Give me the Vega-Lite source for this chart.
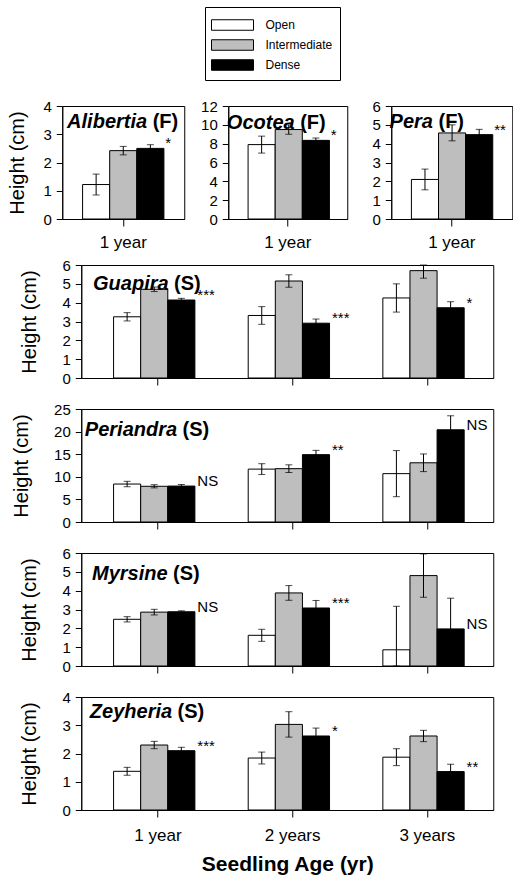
{
  "$schema": "https://vega.github.io/schema/vega-lite/v6.json",
  "padding": {"left": 7, "top": 6, "right": 0, "bottom": 0},
  "datasets": {
    "h": [
      {"species": "Alibertia", "habit": "(F)", "age": "1 year", "cover": "Open", "mean": 1.22, "lo": 0.85, "hi": 1.59, "sig": ""},
      {"species": "Alibertia", "habit": "(F)", "age": "1 year", "cover": "Intermediate", "mean": 2.42, "lo": 2.27, "hi": 2.57, "sig": ""},
      {"species": "Alibertia", "habit": "(F)", "age": "1 year", "cover": "Dense", "mean": 2.5, "lo": 2.37, "hi": 2.63, "sig": "*"},
      {"species": "Ocotea", "habit": "(F)", "age": "1 year", "cover": "Open", "mean": 7.9, "lo": 7.0, "hi": 8.8, "sig": ""},
      {"species": "Ocotea", "habit": "(F)", "age": "1 year", "cover": "Intermediate", "mean": 9.5, "lo": 9.0, "hi": 10.0, "sig": ""},
      {"species": "Ocotea", "habit": "(F)", "age": "1 year", "cover": "Dense", "mean": 8.35, "lo": 8.1, "hi": 8.6, "sig": "*"},
      {"species": "Pera", "habit": "(F)", "age": "1 year", "cover": "Open", "mean": 2.1, "lo": 1.55, "hi": 2.65, "sig": ""},
      {"species": "Pera", "habit": "(F)", "age": "1 year", "cover": "Intermediate", "mean": 4.57, "lo": 4.15, "hi": 5.0, "sig": ""},
      {"species": "Pera", "habit": "(F)", "age": "1 year", "cover": "Dense", "mean": 4.48, "lo": 4.2, "hi": 4.76, "sig": "**"},
      {"species": "Guapira", "habit": "(S)", "age": "1 year", "cover": "Open", "mean": 3.25, "lo": 3.03, "hi": 3.47, "sig": ""},
      {"species": "Guapira", "habit": "(S)", "age": "1 year", "cover": "Intermediate", "mean": 4.71, "lo": 4.59, "hi": 4.83, "sig": ""},
      {"species": "Guapira", "habit": "(S)", "age": "1 year", "cover": "Dense", "mean": 4.14, "lo": 4.05, "hi": 4.23, "sig": "***"},
      {"species": "Guapira", "habit": "(S)", "age": "2 years", "cover": "Open", "mean": 3.32, "lo": 2.85, "hi": 3.79, "sig": ""},
      {"species": "Guapira", "habit": "(S)", "age": "2 years", "cover": "Intermediate", "mean": 5.15, "lo": 4.82, "hi": 5.48, "sig": ""},
      {"species": "Guapira", "habit": "(S)", "age": "2 years", "cover": "Dense", "mean": 2.91, "lo": 2.69, "hi": 3.13, "sig": "***"},
      {"species": "Guapira", "habit": "(S)", "age": "3 years", "cover": "Open", "mean": 4.25, "lo": 3.5, "hi": 5.0, "sig": ""},
      {"species": "Guapira", "habit": "(S)", "age": "3 years", "cover": "Intermediate", "mean": 5.7, "lo": 5.3, "hi": 6.0, "sig": ""},
      {"species": "Guapira", "habit": "(S)", "age": "3 years", "cover": "Dense", "mean": 3.73, "lo": 3.41, "hi": 4.05, "sig": "*"},
      {"species": "Periandra", "habit": "(S)", "age": "1 year", "cover": "Open", "mean": 8.4, "lo": 7.8, "hi": 9.0, "sig": ""},
      {"species": "Periandra", "habit": "(S)", "age": "1 year", "cover": "Intermediate", "mean": 7.9, "lo": 7.55, "hi": 8.25, "sig": ""},
      {"species": "Periandra", "habit": "(S)", "age": "1 year", "cover": "Dense", "mean": 7.95, "lo": 7.6, "hi": 8.3, "sig": "NS"},
      {"species": "Periandra", "habit": "(S)", "age": "2 years", "cover": "Open", "mean": 11.7, "lo": 10.5, "hi": 12.9, "sig": ""},
      {"species": "Periandra", "habit": "(S)", "age": "2 years", "cover": "Intermediate", "mean": 11.8, "lo": 10.95, "hi": 12.65, "sig": ""},
      {"species": "Periandra", "habit": "(S)", "age": "2 years", "cover": "Dense", "mean": 14.9, "lo": 13.95, "hi": 15.85, "sig": "**"},
      {"species": "Periandra", "habit": "(S)", "age": "3 years", "cover": "Open", "mean": 10.7, "lo": 5.6, "hi": 15.8, "sig": ""},
      {"species": "Periandra", "habit": "(S)", "age": "3 years", "cover": "Intermediate", "mean": 13.1, "lo": 11.15, "hi": 15.05, "sig": ""},
      {"species": "Periandra", "habit": "(S)", "age": "3 years", "cover": "Dense", "mean": 20.4, "lo": 17.3, "hi": 23.5, "sig": "NS"},
      {"species": "Myrsine", "habit": "(S)", "age": "1 year", "cover": "Open", "mean": 2.48, "lo": 2.34, "hi": 2.62, "sig": ""},
      {"species": "Myrsine", "habit": "(S)", "age": "1 year", "cover": "Intermediate", "mean": 2.86, "lo": 2.71, "hi": 3.01, "sig": ""},
      {"species": "Myrsine", "habit": "(S)", "age": "1 year", "cover": "Dense", "mean": 2.88, "lo": 2.83, "hi": 2.93, "sig": "NS"},
      {"species": "Myrsine", "habit": "(S)", "age": "2 years", "cover": "Open", "mean": 1.63, "lo": 1.31, "hi": 1.95, "sig": ""},
      {"species": "Myrsine", "habit": "(S)", "age": "2 years", "cover": "Intermediate", "mean": 3.88, "lo": 3.49, "hi": 4.27, "sig": ""},
      {"species": "Myrsine", "habit": "(S)", "age": "2 years", "cover": "Dense", "mean": 3.08, "lo": 2.68, "hi": 3.48, "sig": "***"},
      {"species": "Myrsine", "habit": "(S)", "age": "3 years", "cover": "Open", "mean": 0.86, "lo": 0.0, "hi": 3.17, "sig": ""},
      {"species": "Myrsine", "habit": "(S)", "age": "3 years", "cover": "Intermediate", "mean": 4.8, "lo": 3.65, "hi": 5.95, "sig": ""},
      {"species": "Myrsine", "habit": "(S)", "age": "3 years", "cover": "Dense", "mean": 1.97, "lo": 0.35, "hi": 3.6, "sig": "NS"},
      {"species": "Zeyheria", "habit": "(S)", "age": "1 year", "cover": "Open", "mean": 1.37, "lo": 1.23, "hi": 1.51, "sig": ""},
      {"species": "Zeyheria", "habit": "(S)", "age": "1 year", "cover": "Intermediate", "mean": 2.3, "lo": 2.17, "hi": 2.43, "sig": ""},
      {"species": "Zeyheria", "habit": "(S)", "age": "1 year", "cover": "Dense", "mean": 2.1, "lo": 1.98, "hi": 2.22, "sig": "***"},
      {"species": "Zeyheria", "habit": "(S)", "age": "2 years", "cover": "Open", "mean": 1.84, "lo": 1.63, "hi": 2.05, "sig": ""},
      {"species": "Zeyheria", "habit": "(S)", "age": "2 years", "cover": "Intermediate", "mean": 3.03, "lo": 2.58, "hi": 3.48, "sig": ""},
      {"species": "Zeyheria", "habit": "(S)", "age": "2 years", "cover": "Dense", "mean": 2.62, "lo": 2.34, "hi": 2.9, "sig": "*"},
      {"species": "Zeyheria", "habit": "(S)", "age": "3 years", "cover": "Open", "mean": 1.87, "lo": 1.57, "hi": 2.17, "sig": ""},
      {"species": "Zeyheria", "habit": "(S)", "age": "3 years", "cover": "Intermediate", "mean": 2.62, "lo": 2.42, "hi": 2.82, "sig": ""},
      {"species": "Zeyheria", "habit": "(S)", "age": "3 years", "cover": "Dense", "mean": 1.36, "lo": 1.1, "hi": 1.62, "sig": "**"}
    ]
  },
  "config": {
    "font": "Liberation Sans",
    "view": {"stroke": "black", "strokeWidth": 1},
    "axis": {"domainColor": "black", "tickColor": "black", "labelColor": "black", "titleColor": "black", "grid": false, "labelFontSize": 15, "titleFontSize": 20, "titleFontWeight": "normal", "tickSize": 6, "labelPadding": 5, "labelOverlap": false},
    "axisX": {"labelAngle": 0, "labelFontSize": 17, "tickSize": 7, "labelPadding": 8, "titleFontWeight": "bold", "titleFontSize": 21},
    "legend": {"orient": "none", "legendX": 143, "legendY": -99, "direction": "vertical", "strokeColor": "black", "strokeWidth": 1, "padding": 7, "symbolType": "M-2,-0.5H2V0.5H-2Z", "symbolSize": 441, "symbolOffset": 9.5, "symbolStrokeColor": "black", "symbolStrokeWidth": 1, "symbolOpacity": 1, "labelFontSize": 12, "labelColor": "black", "labelOffset": 22, "rowPadding": 1}
  },
  "spacing": 6,
  "center": true,
  "vconcat": [
    {
      "hconcat": [
        {
          "width": 122, "height": 113,
          "data": {"name": "h"},
          "transform": [{"filter": "datum.species === 'Alibertia'"}],
          "encoding": {
            "x": {"field": "age", "type": "nominal", "title": null, "scale": {"paddingInner": 0, "paddingOuter": 0.25}},
            "xOffset": {"field": "cover", "type": "nominal", "sort": ["Open", "Intermediate", "Dense"], "scale": {"paddingInner": 0, "paddingOuter": 0}}
          },
          "layer": [
            {"mark": {"type": "bar", "stroke": "black", "strokeWidth": 1},
             "encoding": {"y": {"field": "mean", "type": "quantitative", "title": "Height (cm)", "scale": {"domain": [0, 4], "nice": false}, "axis": {"values": [0, 1, 2, 3, 4], "tickCount": 20, "format": "d", "titlePadding": 15}},
                          "fill": {"field": "cover", "type": "nominal", "title": null, "scale": {"domain": ["Open", "Intermediate", "Dense"], "range": ["#ffffff", "#bebebe", "#000000"]}}}},
            {"mark": {"type": "rule", "color": "black", "strokeWidth": 1}, "encoding": {"y": {"field": "lo", "type": "quantitative"}, "y2": {"field": "hi"}}},
            {"mark": {"type": "tick", "color": "black", "size": 7, "thickness": 1}, "encoding": {"y": {"field": "hi", "type": "quantitative"}}},
            {"mark": {"type": "tick", "color": "black", "size": 7, "thickness": 1}, "encoding": {"y": {"field": "lo", "type": "quantitative"}}},
            {"transform": [{"filter": "datum.sig !== ''"}], "mark": {"type": "text", "align": "left", "baseline": "alphabetic", "dx": 15, "fontSize": 15, "color": "black"}, "encoding": {"y": {"field": "mean", "type": "quantitative"}, "text": {"field": "sig"}}},
            {"transform": [{"filter": "datum.cover === 'Open'"}], "mark": {"type": "text", "align": "right", "baseline": "alphabetic", "dx": 51, "dy": 22, "fontSize": 20, "fontWeight": "bold", "fontStyle": "italic", "color": "black"}, "encoding": {"y": {"datum": 4, "type": "quantitative"}, "text": {"field": "species"}}},
            {"transform": [{"filter": "datum.cover === 'Open'"}], "mark": {"type": "text", "align": "left", "baseline": "alphabetic", "dx": 56.5, "dy": 22, "fontSize": 20, "fontWeight": "bold", "color": "black"}, "encoding": {"y": {"datum": 4, "type": "quantitative"}, "text": {"field": "habit"}}}
          ]
        },
        {
          "width": 119, "height": 113,
          "data": {"name": "h"},
          "transform": [{"filter": "datum.species === 'Ocotea'"}],
          "encoding": {
            "x": {"field": "age", "type": "nominal", "title": null, "scale": {"paddingInner": 0, "paddingOuter": 0.25}},
            "xOffset": {"field": "cover", "type": "nominal", "sort": ["Open", "Intermediate", "Dense"], "scale": {"paddingInner": 0, "paddingOuter": 0}}
          },
          "layer": [
            {"mark": {"type": "bar", "stroke": "black", "strokeWidth": 1},
             "encoding": {"y": {"field": "mean", "type": "quantitative", "title": null, "scale": {"domain": [0, 12], "nice": false}, "axis": {"values": [0, 2, 4, 6, 8, 10, 12], "tickCount": 20, "format": "d", "title": null}},
                          "fill": {"field": "cover", "type": "nominal", "title": null, "scale": {"domain": ["Open", "Intermediate", "Dense"], "range": ["#ffffff", "#bebebe", "#000000"]}}}},
            {"mark": {"type": "rule", "color": "black", "strokeWidth": 1}, "encoding": {"y": {"field": "lo", "type": "quantitative", "title": null}, "y2": {"field": "hi"}}},
            {"mark": {"type": "tick", "color": "black", "size": 7, "thickness": 1}, "encoding": {"y": {"field": "hi", "type": "quantitative", "title": null}}},
            {"mark": {"type": "tick", "color": "black", "size": 7, "thickness": 1}, "encoding": {"y": {"field": "lo", "type": "quantitative", "title": null}}},
            {"transform": [{"filter": "datum.sig !== ''"}], "mark": {"type": "text", "align": "left", "baseline": "alphabetic", "dx": 15, "fontSize": 15, "color": "black"}, "encoding": {"y": {"field": "mean", "type": "quantitative", "title": null}, "text": {"field": "sig"}}},
            {"transform": [{"filter": "datum.cover === 'Open'"}], "mark": {"type": "text", "align": "right", "baseline": "alphabetic", "dx": 33, "dy": 23, "fontSize": 20, "fontWeight": "bold", "fontStyle": "italic", "color": "black"}, "encoding": {"y": {"datum": 12, "type": "quantitative", "title": null}, "text": {"field": "species"}}},
            {"transform": [{"filter": "datum.cover === 'Open'"}], "mark": {"type": "text", "align": "left", "baseline": "alphabetic", "dx": 38.5, "dy": 23, "fontSize": 20, "fontWeight": "bold", "color": "black"}, "encoding": {"y": {"datum": 12, "type": "quantitative", "title": null}, "text": {"field": "habit"}}}
          ]
        },
        {
          "width": 121, "height": 113,
          "data": {"name": "h"},
          "transform": [{"filter": "datum.species === 'Pera'"}],
          "encoding": {
            "x": {"field": "age", "type": "nominal", "title": null, "scale": {"paddingInner": 0, "paddingOuter": 0.25}},
            "xOffset": {"field": "cover", "type": "nominal", "sort": ["Open", "Intermediate", "Dense"], "scale": {"paddingInner": 0, "paddingOuter": 0}}
          },
          "layer": [
            {"mark": {"type": "bar", "stroke": "black", "strokeWidth": 1},
             "encoding": {"y": {"field": "mean", "type": "quantitative", "title": null, "scale": {"domain": [0, 6], "nice": false}, "axis": {"values": [0, 1, 2, 3, 4, 5, 6], "tickCount": 20, "format": "d", "title": null}},
                          "fill": {"field": "cover", "type": "nominal", "title": null, "scale": {"domain": ["Open", "Intermediate", "Dense"], "range": ["#ffffff", "#bebebe", "#000000"]}}}},
            {"mark": {"type": "rule", "color": "black", "strokeWidth": 1}, "encoding": {"y": {"field": "lo", "type": "quantitative", "title": null}, "y2": {"field": "hi"}}},
            {"mark": {"type": "tick", "color": "black", "size": 7, "thickness": 1}, "encoding": {"y": {"field": "hi", "type": "quantitative", "title": null}}},
            {"mark": {"type": "tick", "color": "black", "size": 7, "thickness": 1}, "encoding": {"y": {"field": "lo", "type": "quantitative", "title": null}}},
            {"transform": [{"filter": "datum.sig !== ''"}], "mark": {"type": "text", "align": "left", "baseline": "alphabetic", "dx": 15, "fontSize": 15, "color": "black"}, "encoding": {"y": {"field": "mean", "type": "quantitative", "title": null}, "text": {"field": "sig"}}},
            {"transform": [{"filter": "datum.cover === 'Open'"}], "mark": {"type": "text", "align": "right", "baseline": "alphabetic", "dx": 8, "dy": 22, "fontSize": 20, "fontWeight": "bold", "fontStyle": "italic", "color": "black"}, "encoding": {"y": {"datum": 6, "type": "quantitative", "title": null}, "text": {"field": "species"}}},
            {"transform": [{"filter": "datum.cover === 'Open'"}], "mark": {"type": "text", "align": "left", "baseline": "alphabetic", "dx": 13.5, "dy": 22, "fontSize": 20, "fontWeight": "bold", "color": "black"}, "encoding": {"y": {"datum": 6, "type": "quantitative", "title": null}, "text": {"field": "habit"}}}
          ]
        }
      ],
      "spacing": 44,
      "bounds": "flush"
    },
    {
      "vconcat": [
        {
          "width": 412, "height": 113,
          "data": {"name": "h"},
          "transform": [{"filter": "datum.species === 'Guapira'"}],
          "encoding": {
            "x": {"field": "age", "type": "nominal", "title": null, "sort": ["1 year", "2 years", "3 years"], "scale": {"paddingInner": 0.34, "paddingOuter": 0.2, "align": 0.6}, "axis": {"labels": false}},
            "xOffset": {"field": "cover", "type": "nominal", "sort": ["Open", "Intermediate", "Dense"], "scale": {"paddingInner": 0, "paddingOuter": 0}}
          },
          "layer": [
            {"mark": {"type": "bar", "stroke": "black", "strokeWidth": 1},
             "encoding": {"y": {"field": "mean", "type": "quantitative", "title": "Height (cm)", "scale": {"domain": [0, 6], "nice": false}, "axis": {"values": [0, 1, 2, 3, 4, 5, 6], "tickCount": 20, "format": "d", "titlePadding": 22}},
                          "fill": {"field": "cover", "type": "nominal", "title": null, "scale": {"domain": ["Open", "Intermediate", "Dense"], "range": ["#ffffff", "#bebebe", "#000000"]}}}},
            {"mark": {"type": "rule", "color": "black", "strokeWidth": 1}, "encoding": {"y": {"field": "lo", "type": "quantitative"}, "y2": {"field": "hi"}}},
            {"mark": {"type": "tick", "color": "black", "size": 7, "thickness": 1}, "encoding": {"y": {"field": "hi", "type": "quantitative"}}},
            {"mark": {"type": "tick", "color": "black", "size": 7, "thickness": 1}, "encoding": {"y": {"field": "lo", "type": "quantitative"}}},
            {"transform": [{"filter": "datum.sig !== ''"}], "mark": {"type": "text", "align": "left", "baseline": "alphabetic", "dx": 16, "fontSize": 15, "color": "black"}, "encoding": {"y": {"field": "mean", "type": "quantitative"}, "text": {"field": "sig"}}},
            {"transform": [{"filter": "datum.cover === 'Open' && datum.age === '1 year'"}], "mark": {"type": "text", "align": "right", "baseline": "alphabetic", "dx": 41.5, "dy": 25, "fontSize": 20, "fontWeight": "bold", "fontStyle": "italic", "color": "black"}, "encoding": {"y": {"datum": 6, "type": "quantitative"}, "text": {"field": "species"}}},
            {"transform": [{"filter": "datum.cover === 'Open' && datum.age === '1 year'"}], "mark": {"type": "text", "align": "left", "baseline": "alphabetic", "dx": 47, "dy": 25, "fontSize": 20, "fontWeight": "bold", "color": "black"}, "encoding": {"y": {"datum": 6, "type": "quantitative"}, "text": {"field": "habit"}}}
          ]
        },
        {
          "width": 412, "height": 113,
          "data": {"name": "h"},
          "transform": [{"filter": "datum.species === 'Periandra'"}],
          "encoding": {
            "x": {"field": "age", "type": "nominal", "title": null, "sort": ["1 year", "2 years", "3 years"], "scale": {"paddingInner": 0.34, "paddingOuter": 0.2, "align": 0.6}, "axis": {"labels": false}},
            "xOffset": {"field": "cover", "type": "nominal", "sort": ["Open", "Intermediate", "Dense"], "scale": {"paddingInner": 0, "paddingOuter": 0}}
          },
          "layer": [
            {"mark": {"type": "bar", "stroke": "black", "strokeWidth": 1},
             "encoding": {"y": {"field": "mean", "type": "quantitative", "title": "Height (cm)", "scale": {"domain": [0, 25], "nice": false}, "axis": {"values": [0, 5, 10, 15, 20, 25], "tickCount": 20, "format": "d", "titlePadding": 22}},
                          "fill": {"field": "cover", "type": "nominal", "title": null, "scale": {"domain": ["Open", "Intermediate", "Dense"], "range": ["#ffffff", "#bebebe", "#000000"]}}}},
            {"mark": {"type": "rule", "color": "black", "strokeWidth": 1}, "encoding": {"y": {"field": "lo", "type": "quantitative"}, "y2": {"field": "hi"}}},
            {"mark": {"type": "tick", "color": "black", "size": 7, "thickness": 1}, "encoding": {"y": {"field": "hi", "type": "quantitative"}}},
            {"mark": {"type": "tick", "color": "black", "size": 7, "thickness": 1}, "encoding": {"y": {"field": "lo", "type": "quantitative"}}},
            {"transform": [{"filter": "datum.sig !== ''"}], "mark": {"type": "text", "align": "left", "baseline": "alphabetic", "dx": 16, "fontSize": 15, "color": "black"}, "encoding": {"y": {"field": "mean", "type": "quantitative"}, "text": {"field": "sig"}}},
            {"transform": [{"filter": "datum.cover === 'Open' && datum.age === '1 year'"}], "mark": {"type": "text", "align": "right", "baseline": "alphabetic", "dx": 50, "dy": 27, "fontSize": 20, "fontWeight": "bold", "fontStyle": "italic", "color": "black"}, "encoding": {"y": {"datum": 25, "type": "quantitative"}, "text": {"field": "species"}}},
            {"transform": [{"filter": "datum.cover === 'Open' && datum.age === '1 year'"}], "mark": {"type": "text", "align": "left", "baseline": "alphabetic", "dx": 55.5, "dy": 27, "fontSize": 20, "fontWeight": "bold", "color": "black"}, "encoding": {"y": {"datum": 25, "type": "quantitative"}, "text": {"field": "habit"}}}
          ]
        },
        {
          "width": 412, "height": 113,
          "data": {"name": "h"},
          "transform": [{"filter": "datum.species === 'Myrsine'"}],
          "encoding": {
            "x": {"field": "age", "type": "nominal", "title": null, "sort": ["1 year", "2 years", "3 years"], "scale": {"paddingInner": 0.34, "paddingOuter": 0.2, "align": 0.6}, "axis": {"labels": false}},
            "xOffset": {"field": "cover", "type": "nominal", "sort": ["Open", "Intermediate", "Dense"], "scale": {"paddingInner": 0, "paddingOuter": 0}}
          },
          "layer": [
            {"mark": {"type": "bar", "stroke": "black", "strokeWidth": 1},
             "encoding": {"y": {"field": "mean", "type": "quantitative", "title": "Height (cm)", "scale": {"domain": [0, 6], "nice": false}, "axis": {"values": [0, 1, 2, 3, 4, 5, 6], "tickCount": 20, "format": "d", "titlePadding": 22}},
                          "fill": {"field": "cover", "type": "nominal", "title": null, "scale": {"domain": ["Open", "Intermediate", "Dense"], "range": ["#ffffff", "#bebebe", "#000000"]}}}},
            {"mark": {"type": "rule", "color": "black", "strokeWidth": 1}, "encoding": {"y": {"field": "lo", "type": "quantitative"}, "y2": {"field": "hi"}}},
            {"mark": {"type": "tick", "color": "black", "size": 7, "thickness": 1}, "encoding": {"y": {"field": "hi", "type": "quantitative"}}},
            {"mark": {"type": "tick", "color": "black", "size": 7, "thickness": 1}, "encoding": {"y": {"field": "lo", "type": "quantitative"}}},
            {"transform": [{"filter": "datum.sig !== ''"}], "mark": {"type": "text", "align": "left", "baseline": "alphabetic", "dx": 16, "fontSize": 15, "color": "black"}, "encoding": {"y": {"field": "mean", "type": "quantitative"}, "text": {"field": "sig"}}},
            {"transform": [{"filter": "datum.cover === 'Open' && datum.age === '1 year'"}], "mark": {"type": "text", "align": "right", "baseline": "alphabetic", "dx": 40.5, "dy": 27, "fontSize": 20, "fontWeight": "bold", "fontStyle": "italic", "color": "black"}, "encoding": {"y": {"datum": 6, "type": "quantitative"}, "text": {"field": "species"}}},
            {"transform": [{"filter": "datum.cover === 'Open' && datum.age === '1 year'"}], "mark": {"type": "text", "align": "left", "baseline": "alphabetic", "dx": 46, "dy": 27, "fontSize": 20, "fontWeight": "bold", "color": "black"}, "encoding": {"y": {"datum": 6, "type": "quantitative"}, "text": {"field": "habit"}}}
          ]
        },
        {
          "width": 412, "height": 113,
          "data": {"name": "h"},
          "transform": [{"filter": "datum.species === 'Zeyheria'"}],
          "encoding": {
            "x": {"field": "age", "type": "nominal", "title": "Seedling Age (yr)", "sort": ["1 year", "2 years", "3 years"], "scale": {"paddingInner": 0.34, "paddingOuter": 0.2, "align": 0.6}, "axis": {"labelPadding": 10, "titlePadding": 10}},
            "xOffset": {"field": "cover", "type": "nominal", "sort": ["Open", "Intermediate", "Dense"], "scale": {"paddingInner": 0, "paddingOuter": 0}}
          },
          "layer": [
            {"mark": {"type": "bar", "stroke": "black", "strokeWidth": 1},
             "encoding": {"y": {"field": "mean", "type": "quantitative", "title": "Height (cm)", "scale": {"domain": [0, 4], "nice": false}, "axis": {"values": [0, 1, 2, 3, 4], "tickCount": 20, "format": "d", "titlePadding": 22}},
                          "fill": {"field": "cover", "type": "nominal", "title": null, "scale": {"domain": ["Open", "Intermediate", "Dense"], "range": ["#ffffff", "#bebebe", "#000000"]}}}},
            {"mark": {"type": "rule", "color": "black", "strokeWidth": 1}, "encoding": {"y": {"field": "lo", "type": "quantitative"}, "y2": {"field": "hi"}}},
            {"mark": {"type": "tick", "color": "black", "size": 7, "thickness": 1}, "encoding": {"y": {"field": "hi", "type": "quantitative"}}},
            {"mark": {"type": "tick", "color": "black", "size": 7, "thickness": 1}, "encoding": {"y": {"field": "lo", "type": "quantitative"}}},
            {"transform": [{"filter": "datum.sig !== ''"}], "mark": {"type": "text", "align": "left", "baseline": "alphabetic", "dx": 16, "fontSize": 15, "color": "black"}, "encoding": {"y": {"field": "mean", "type": "quantitative"}, "text": {"field": "sig"}}},
            {"transform": [{"filter": "datum.cover === 'Open' && datum.age === '1 year'"}], "mark": {"type": "text", "align": "right", "baseline": "alphabetic", "dx": 45, "dy": 21, "fontSize": 20, "fontWeight": "bold", "fontStyle": "italic", "color": "black"}, "encoding": {"y": {"datum": 4, "type": "quantitative"}, "text": {"field": "species"}}},
            {"transform": [{"filter": "datum.cover === 'Open' && datum.age === '1 year'"}], "mark": {"type": "text", "align": "left", "baseline": "alphabetic", "dx": 50.5, "dy": 21, "fontSize": 20, "fontWeight": "bold", "color": "black"}, "encoding": {"y": {"datum": 4, "type": "quantitative"}, "text": {"field": "habit"}}}
          ]
        }
      ],
      "spacing": 31,
      "bounds": "flush"
    }
  ]
}
